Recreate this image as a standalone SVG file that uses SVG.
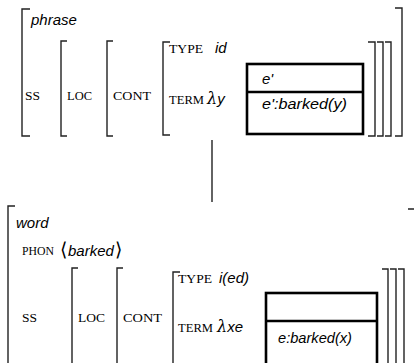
<svg xmlns="http://www.w3.org/2000/svg" width="414" height="363" viewBox="0 0 414 363">
<style>
.br{fill:none;stroke:#222;stroke-width:1.4}
.box{fill:none;stroke:#000;stroke-width:2.6}
.sc{font-family:"Liberation Serif",serif;font-size:12px;fill:#000}
.it{font-family:"Liberation Sans",sans-serif;font-style:italic;font-size:15px;fill:#000}
.lam{font-family:"DejaVu Serif",serif;font-style:italic;font-size:16px;fill:#000}
.ang{font-family:"DejaVu Sans",sans-serif;font-size:19px;fill:#000;font-weight:300}
.conn{stroke:#222;stroke-width:1.4}
</style>
<rect width="414" height="363" fill="#fff"/>
<g id="phrase">
  <path class="br" d="M30,9 H22 V136 H30"/>
  <path class="br" d="M395,8 H402 V136 H395"/>
  <text class="it" x="31" y="25">phrase</text>
  <text class="sc" x="25" y="100" textLength="15" lengthAdjust="spacingAndGlyphs">SS</text>
  <path class="br" d="M67,41 H61 V136 H67"/>
  <text class="sc" x="67" y="100" textLength="25" lengthAdjust="spacingAndGlyphs">LOC</text>
  <path class="br" d="M113,41 H107 V136 H113"/>
  <text class="sc" x="113" y="100" textLength="38" lengthAdjust="spacingAndGlyphs">CONT</text>
  <path class="br" d="M170,42 H163 V135 H170"/>
  <text class="sc" x="169" y="53" textLength="34" lengthAdjust="spacingAndGlyphs">TYPE</text>
  <text class="it" x="215" y="53">id</text>
  <text class="sc" x="169" y="104" textLength="35" lengthAdjust="spacingAndGlyphs">TERM</text>
  <text x="207" y="104"><tspan class="lam">λ</tspan><tspan class="it">y</tspan></text>
  <rect class="box" x="247" y="64" width="116" height="70"/>
  <line class="box" x1="247" y1="92" x2="363" y2="92"/>
  <text class="it" x="262" y="84">e'</text>
  <text class="it" x="262" y="109" textLength="85" lengthAdjust="spacingAndGlyphs">e':barked(y)</text>
  <path class="br" d="M368,42 H375 V136 H368"/>
  <path class="br" d="M377,42 H383 V136 H377"/>
  <path class="br" d="M385,42 H391 V136 H385"/>
</g>
<g id="connectors">
  <line class="conn" x1="212" y1="140" x2="212" y2="202"/>
</g>
<g id="word">
  <path class="br" d="M15,206 H8 V370"/>
  <path class="br" d="M408,209 H415 V370"/>
  <text class="it" x="16" y="228">word</text>
  <text class="sc" x="22" y="255" textLength="32" lengthAdjust="spacingAndGlyphs">PHON</text>
  <text x="60" y="256"><tspan class="ang">⟨</tspan><tspan class="it" dx="1">barked</tspan><tspan class="ang" dx="1">⟩</tspan></text>
  <text class="sc" x="22" y="322" textLength="15" lengthAdjust="spacingAndGlyphs">SS</text>
  <path class="br" d="M78,268 H72 V370"/>
  <text class="sc" x="78" y="322" textLength="27" lengthAdjust="spacingAndGlyphs">LOC</text>
  <path class="br" d="M123,268 H117 V370"/>
  <text class="sc" x="123" y="322" textLength="39" lengthAdjust="spacingAndGlyphs">CONT</text>
  <path class="br" d="M180,272 H173 V370"/>
  <text class="sc" x="178" y="283" textLength="34" lengthAdjust="spacingAndGlyphs">TYPE</text>
  <text class="it" x="219" y="283">i(ed)</text>
  <text class="sc" x="178" y="332" textLength="35" lengthAdjust="spacingAndGlyphs">TERM</text>
  <text x="217" y="332"><tspan class="lam">λ</tspan><tspan class="it">xe</tspan></text>
  <rect class="box" x="266" y="293" width="111" height="90"/>
  <line class="box" x1="266" y1="321" x2="377" y2="321"/>
  <text class="it" x="278" y="343" textLength="74" lengthAdjust="spacingAndGlyphs">e:barked(x)</text>
  <path class="br" d="M382,269 H388 V370"/>
  <path class="br" d="M390,269 H396 V370"/>
  <path class="br" d="M398,269 H404 V370"/>
</g>
</svg>
